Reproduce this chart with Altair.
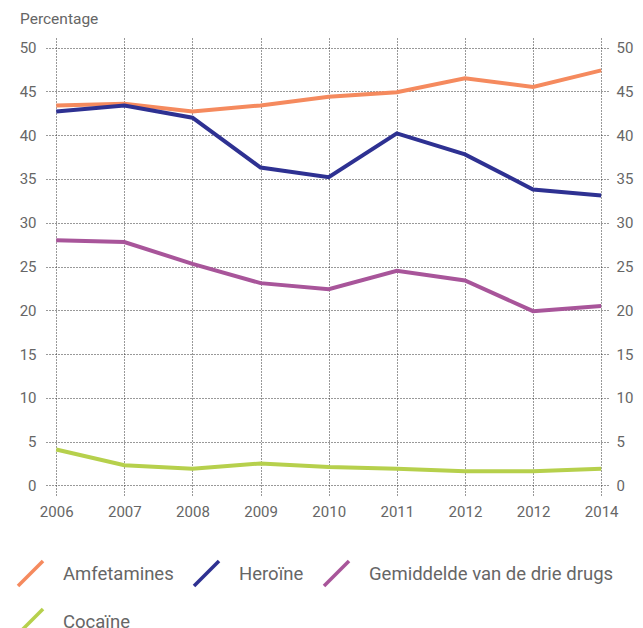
import altair as alt
import pandas as pd

year_labels = ["2006", "2007", "2008", "2009", "2010", "2011", "2012", "2012", "2014"]
series = ["Amfetamines", "Heroïne", "Gemiddelde van de drie drugs", "Cocaïne"]
amfetamines = [43.4, 43.6, 42.7, 43.4, 44.4, 44.9, 46.5, 45.5, 47.4]
heroine = [42.7, 43.4, 42.0, 36.3, 35.2, 40.2, 37.8, 33.8, 33.1]
gemiddelde = [28.0, 27.8, 25.3, 23.1, 22.4, 24.5, 23.4, 19.9, 20.5]
cocaine = [4.1, 2.3, 1.9, 2.5, 2.1, 1.9, 1.6, 1.6, 1.9]
colors = ["#F58A5E", "#2E3192", "#A8559A", "#B6D04C"]

rows = []
for name, vals in zip(series, [amfetamines, heroine, gemiddelde, cocaine]):
    for i, v in enumerate(vals):
        rows.append({"idx": i, "serie": name, "value": v})
df = pd.DataFrame(rows)

label_expr = "[" + ",".join("'%s'" % y for y in year_labels) + "][datum.value]"
FONT = "Roboto"
GRID = dict(grid=True, gridColor="#333333", gridDash=[1, 2], gridWidth=1)

x_scale = alt.Scale(domain=[-0.15, 8.1], nice=False, zero=False)
x_axis = alt.Axis(values=list(range(9)), labelExpr=label_expr, title=None,
                  domain=False, ticks=False, labelPadding=9, labelFontSize=15,
                  labelColor="#666666", labelFont=FONT, **GRID)
y_scale = alt.Scale(domain=[-1.1, 51.1], nice=False, zero=False)

lines = alt.Chart(df).mark_line(strokeWidth=4, strokeCap="butt").encode(
    x=alt.X("idx:Q", scale=x_scale, axis=x_axis),
    y=alt.Y("value:Q", scale=y_scale,
            axis=alt.Axis(values=list(range(0, 51, 5)), title=None, domain=False,
                          ticks=False, labelPadding=10, labelFontSize=15,
                          labelColor="#666666", labelFont=FONT, **GRID)),
    color=alt.Color(
        "serie:N",
        scale=alt.Scale(domain=series, range=colors),
        sort=series,
        legend=alt.Legend(
            title=None, orient="none", legendX=-30, legendY=521,
            direction="horizontal", columns=3,
            symbolType="M-1,1L1,-1", symbolSize=625, symbolStrokeWidth=3.5,
            symbolFillColor="transparent",
            labelFontSize=18.5, labelColor="#666666", labelFont=FONT,
            labelLimit=0, labelOffset=18, rowPadding=9, columnPadding=13,
        ),
    ),
    detail="serie:N",
)

right = alt.Chart(df).mark_line(opacity=0).encode(
    x=alt.X("idx:Q", scale=x_scale, axis=x_axis),
    y=alt.Y("value:Q", scale=y_scale,
            axis=alt.Axis(orient="right", values=list(range(0, 51, 5)), title=None,
                          domain=False, ticks=False, grid=False, labelPadding=8,
                          labelFontSize=15, labelColor="#666666", labelFont=FONT)),
    detail="serie:N",
)

chart = alt.layer(lines, right).resolve_axis(y="independent").properties(
    width=562,
    height=457,
    autosize=alt.AutoSizeParams(type="none"),
    padding={"left": 38, "top": 30, "right": 27, "bottom": 138},
    title=alt.Title("Percentage", anchor="start", frame="group", dx=-26, dy=1,
                    fontSize=15.5, fontWeight="normal", color="#666666", font=FONT,
                    offset=12),
).configure_view(stroke=None)

chart.save("out.html", embed_options={"renderer": "svg", "actions": False})
